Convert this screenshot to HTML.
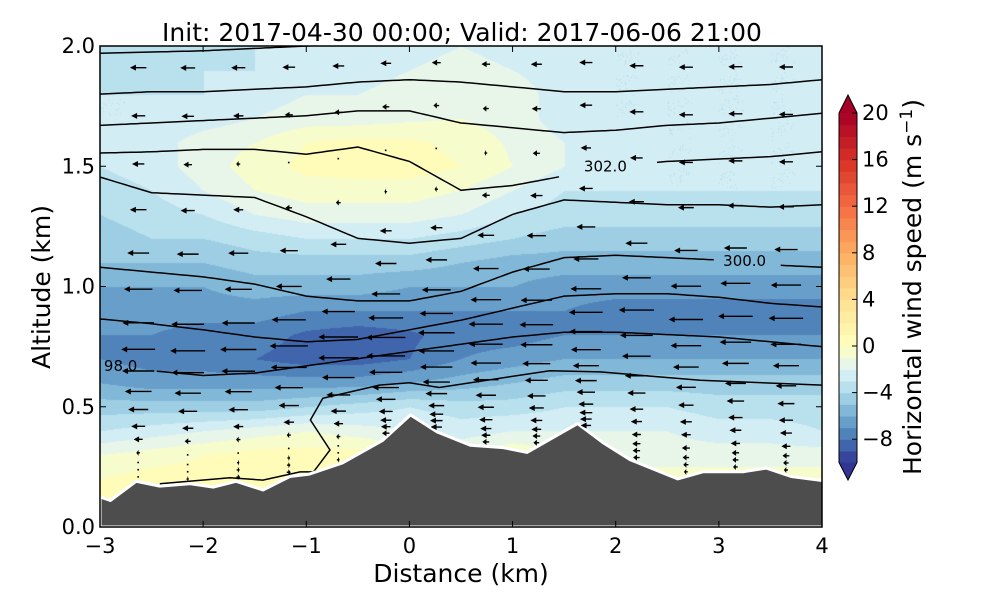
<!DOCTYPE html>
<html><head><meta charset="utf-8">
<style>
html,body{margin:0;padding:0;background:#fff;width:1000px;height:600px;overflow:hidden}
#wrap{position:relative;width:1000px;height:600px}
canvas{position:absolute;left:100px;top:46px}
svg{position:absolute;left:0;top:0}
text{font-family:"DejaVu Sans","Liberation Sans",sans-serif;fill:#000}
</style></head>
<body>
<div id="wrap">
<canvas id="heat" width="722" height="481"></canvas>
<svg id="svg" width="1000" height="600" xmlns="http://www.w3.org/2000/svg"></svg>
</div>
<script>
// ---- data ----
const gridX = [-3,-2.5,-2,-1.5,-1,-0.5,0,0.5,1,1.5,2,2.5,3,3.5,4];
const gridZ = [0,0.1,0.2,0.3,0.4,0.5,0.6,0.7,0.8,0.9,1.0,1.1,1.2,1.3,1.4,1.5,1.6,1.7,1.8,1.9,2.0];
const windU = [
[0.5,0.5,0.5,0.5,0.5,0.5,0.5,0.5,0.5,0.5,0.5,0.5,0.5,0.5,0.5],
[0.5,0.5,0.5,0.5,0.5,0.5,0.5,0.5,0.5,0.5,0.5,0.5,0.5,0.5,0.5],
[0,0.5,0.5,1,1,1,0,0,0.5,-0.5,-0.5,-0.5,-0.5,-0.5,-0.5],
[-1,-0.5,0,0.5,0.5,0.5,-0.5,-1,0,-1,-1.5,-1.5,-1.5,-1.5,-1.5],
[-3,-2.5,-2,-1.5,-1,-1.5,-2,-2.5,-2,-2,-2,-2,-2.5,-2.5,-3],
[-4.5,-4.5,-4.5,-4.5,-4,-3.5,-3,-3.5,-3.5,-3,-3,-3,-3.5,-3.5,-3.5],
[-6,-6.5,-6.5,-6.5,-6.5,-6.5,-6,-5.5,-5,-4.5,-4.5,-4.5,-4.5,-4.5,-4.5],
[-7,-7.5,-7.5,-8,-8.5,-8.5,-8,-7,-6.5,-6,-6,-6,-6,-6,-6],
[-7,-7,-7.5,-7.5,-8.2,-8.6,-8.2,-7.5,-7.5,-7,-7,-7,-7,-7,-7],
[-6.5,-6.5,-6.5,-6.5,-7,-7,-7,-7,-7,-7,-7.5,-7.5,-7.5,-7.5,-7.5],
[-6,-6,-6,-5.5,-5.5,-5.5,-6,-6,-6,-6.5,-6.5,-6.5,-6.5,-6.5,-6.5],
[-5,-5,-5,-4.5,-4.5,-4.5,-4.5,-5,-5.5,-5.5,-5.5,-5.5,-5.5,-5.5,-5.5],
[-4.5,-4,-4,-3.5,-3,-3,-3,-3.5,-4,-4.5,-4.5,-4.5,-4.5,-4.5,-4.5],
[-4,-3.5,-3,-2,-1.5,-1.5,-1.5,-2,-3,-3.5,-3.5,-3.5,-3.5,-3.5,-3.5],
[-3.5,-3,-2,-1,-0.5,-0.5,-0.5,-1,-2,-3,-3,-3,-3,-3,-3],
[-3,-2.5,-1.5,-0.5,0.3,0.5,0.5,0,-1,-2,-2.5,-3,-3,-3,-3],
[-3,-2.5,-1.5,-1,0,0.3,0.2,-0.3,-1.2,-2,-2.5,-3,-3,-3,-3],
[-3,-3,-2.5,-2,-1.5,-1.5,-1.2,-1,-1.5,-2.5,-3,-3,-3,-3,-3],
[-3,-3,-3,-2.5,-2,-2,-1.5,-1.2,-1.5,-2.5,-3,-3,-3,-3,-3],
[-3.5,-3.5,-3,-3,-2.5,-2.5,-2,-1.5,-2,-2.5,-3,-3,-3,-3,-3],
[-3.5,-3.5,-3.5,-3,-3,-2.5,-2.5,-2,-2.5,-3,-3,-3,-3,-3,-3]
];
const terrainX = [-3,-2.9,-2.65,-2.42,-2.13,-1.9,-1.68,-1.42,-1.16,-0.97,-0.65,-0.26,0.01,0.27,0.59,0.91,1.14,1.63,1.88,2.14,2.6,2.85,3.24,3.46,3.7,4.06,4.2];
const terrainZ = [0.125,0.11,0.19,0.17,0.18,0.166,0.19,0.154,0.21,0.22,0.266,0.36,0.466,0.395,0.34,0.33,0.31,0.43,0.35,0.28,0.20,0.23,0.23,0.245,0.21,0.19,0.2];
const contourX = [-3,-2.5,-2,-1.5,-1,-0.5,0,0.5,1,1.5,2,2.5,3,3.5,4];
const contour1 = [1.97,1.975,1.98,1.99,2.0,2.01,2.02,2.02,2.02,2.02,2.02,2.02,2.02,2.02,2.02];
const contour2 = [1.80,1.81,1.81,1.82,1.83,1.85,1.86,1.85,1.83,1.81,1.81,1.82,1.83,1.84,1.86];
const contour3 = [1.67,1.68,1.69,1.70,1.71,1.73,1.73,1.68,1.66,1.64,1.65,1.67,1.68,1.70,1.72];
const contour4 = [1.555,1.56,1.57,1.57,1.55,1.58,1.52,1.40,1.42,1.46,1.50,1.52,1.53,1.54,1.56];
const contour5 = [1.455,1.39,1.38,1.37,1.29,1.20,1.18,1.20,1.30,1.36,1.35,1.34,1.34,1.33,1.34];
const contour6 = [1.08,1.06,1.04,1.01,0.96,0.94,0.94,0.98,1.06,1.12,1.13,1.12,1.11,1.09,1.08];
const contour7 = [0.865,0.845,0.82,0.79,0.77,0.78,0.82,0.86,0.91,0.96,0.97,0.97,0.955,0.93,0.915];
const contour8 = [0.64,0.65,0.63,0.64,0.67,0.70,0.73,0.76,0.79,0.81,0.81,0.80,0.79,0.77,0.75];
const contour9X = [-2.42,-1.74,-1.42,-1.06,-0.93,-0.77,-0.96,-0.84,-0.29,0,0.29,1.36,1.85,2.82,4];
const contour9Z = [0.18,0.205,0.195,0.229,0.229,0.32,0.445,0.535,0.59,0.60,0.58,0.65,0.645,0.61,0.59];
const arrowX = [-2.63,-2.15,-1.66,-1.17,-0.69,-0.23,0.26,0.74,1.23,1.71,2.2,2.68,3.16,3.65];
const arrowEta = [1.72,1.52,1.32,1.13,0.95,0.80,0.66,0.55,0.46,0.375,0.30,0.23,0.176,0.12,0.08,0.05,0.02];
const cbTicks = [-8,-4,0,4,8,12,16,20];
const xTicks = [-3,-2,-1,0,1,2,3,4];
const yTicks = [0,0.5,1.0,1.5,2.0];

// ---- scales ----
const X0=100,X1=822,Y0=527,Y1=46;
const sx = x => X0+(x+3)/7*(X1-X0);
const sy = z => Y0-(z/2)*(Y0-Y1);
const NS='http://www.w3.org/2000/svg';
const svg=document.getElementById('svg');
function el(tag,attrs,parent){const e=document.createElementNS(NS,tag);for(const k in attrs)e.setAttribute(k,attrs[k]);(parent||svg).appendChild(e);return e;}

const stops=['#313695','#4575b4','#74add1','#abd9e9','#e0f3f8','#ffffbf','#fee090','#fdae61','#f46d43','#d73027','#a50026'];
const stopV=[-10,-8,-6,-4,-2,0,4,8,12,16,20];
function hex(h){return [parseInt(h.substr(1,2),16),parseInt(h.substr(3,2),16),parseInt(h.substr(5,2),16)];}
const stopC=stops.map(hex);
function cmap(v){v=Math.max(-10,Math.min(20,v));for(let i=0;i<stopV.length-1;i++){if(v<=stopV[i+1]){const t=(v-stopV[i])/(stopV[i+1]-stopV[i]);const a=stopC[i],b=stopC[i+1];return [0,1,2].map(k=>Math.round(a[k]+(b[k]-a[k])*t));}}return stopC[stopC.length-1];}
function field(x,z){
  let i=(x-gridX[0])/(gridX[1]-gridX[0]);let j=(z-gridZ[0])/(gridZ[1]-gridZ[0]);
  i=Math.max(0,Math.min(gridX.length-1.0001,i));j=Math.max(0,Math.min(gridZ.length-1.0001,j));
  const i0=Math.floor(i),j0=Math.floor(j),fi=i-i0,fj=j-j0;
  const a=windU[j0][i0],b=windU[j0][i0+1],c=windU[j0+1][i0],d=windU[j0+1][i0+1];
  return a*(1-fi)*(1-fj)+b*fi*(1-fj)+c*(1-fi)*fj+d*fi*fj;
}
const cv=document.getElementById('heat'),ctx=cv.getContext('2d');
const W=cv.width,H=cv.height,img=ctx.createImageData(W,H);
for(let py=0;py<H;py++){const z=(Y0-(py+46))/(Y0-Y1)*2;for(let px=0;px<W;px++){const x=(px+100-X0)/(X1-X0)*7-3;const v=field(x,z);const lv=Math.floor(v)+0.5;const c=cmap(lv);const o=(py*W+px)*4;img.data[o]=c[0];img.data[o+1]=c[1];img.data[o+2]=c[2];img.data[o+3]=255;}}
ctx.putImageData(img,0,0);

const plot=el('g',{'clip-path':'url(#clip)'});


const defs=el('defs',{});
const cp=el('clipPath',{id:'clip'},defs);el('rect',{x:X0,y:Y1,width:X1-X0,height:Y0-Y1},cp);

const contours=[contour1,contour2,contour3,contour4,contour5,contour6,contour7,contour8];
const gaps={3:[1.45,2.35],5:[2.95,3.55],7:[-3.1,-2.5]};
contours.forEach((c,k)=>{
  let d='';let pen=false;
  for(let xx=-3;xx<=4.0001;xx+=0.05){
    const i=Math.min(contourX.length-2,Math.floor((xx+3)/0.5));const t=(xx-contourX[i])/0.5;
    const z=c[i]+(c[i+1]-c[i])*t;
    const g=gaps[k];if(g&&xx>g[0]&&xx<g[1]){pen=false;continue;}
    d+=(pen?'L':'M')+sx(xx).toFixed(1)+' '+sy(z).toFixed(1);pen=true;
  }
  const p=el('path',{d:d,fill:'none',stroke:'#000','stroke-width':1.5},plot);
  
  
});
{let d='';contour9X.forEach((x,i)=>{d+=(i?'L':'M')+sx(x).toFixed(1)+' '+sy(contour9Z[i]).toFixed(1);});
const p=el('path',{d:d,fill:'none',stroke:'#000','stroke-width':1.5},plot);

}
const lbls=[['302.0',1.9,1.5],['300.0',3.25,1.105],['98.0',-2.8,0.67]];
lbls.forEach(l=>{const t=el('text',{x:sx(l[1]),y:sy(l[2])+5,'font-size':15,'text-anchor':'middle'},plot);t.textContent=l[0];

});

function terr(x){for(let i=0;i<terrainX.length-1;i++){if(x<=terrainX[i+1]){const t=(x-terrainX[i])/(terrainX[i+1]-terrainX[i]);return terrainZ[i]+(terrainZ[i+1]-terrainZ[i])*t;}}return terrainZ[terrainZ.length-1];}
{let d='M'+sx(-3)+' '+sy(0);terrainX.forEach((x,i)=>{d+='L'+sx(x).toFixed(1)+' '+sy(terrainZ[i]).toFixed(1);});d+='L'+sx(4.2)+' '+sy(0)+'Z';
const t=el('path',{d:d,fill:'#4d4d4d',stroke:'#fff','stroke-width':3,'stroke-linejoin':'round'},plot);

}

const ag=el('g',{},plot);


arrowX.forEach(x=>{const t=terr(x);arrowEta.forEach(e=>{
  const z=t+e*(2.1-t)/(2.1-0.19);
  if(z>1.99)return;
  const u=field(x,z);
  const L=u*4.7;const x0=sx(x),y0=sy(z);
  let d;
  if(Math.abs(L)<2){d=`M${x0-0.8} ${y0-0.8}h1.6v1.6h-1.6Z`;}
  else{const xe=x0+L/2,xs=x0-L/2,sg=Math.sign(L);const hl=Math.min(6,Math.abs(L)*0.6);
  d=`M${xs} ${y0-0.7}L${xe-sg*hl} ${y0-0.7}L${xe-sg*hl} ${y0-3}L${xe} ${y0}L${xe-sg*hl} ${y0+3}L${xe-sg*hl} ${y0+0.7}L${xs} ${y0+0.7}Z`;}
  const a=el('path',{d:d,fill:'#000'},ag);
  
  
});});

const ax=el('g',{});


el('rect',{x:X0,y:Y1,width:X1-X0,height:Y0-Y1,fill:'none',stroke:'#000','stroke-width':1.5},ax);
xTicks.forEach(v=>{const x=sx(v);el('line',{x1:x,x2:x,y1:Y0,y2:Y0-6,stroke:'#000'},ax);el('line',{x1:x,x2:x,y1:Y1,y2:Y1+6,stroke:'#000'},ax);
const t=el('text',{x:x,y:553,'font-size':21,'text-anchor':'middle'},ax);t.textContent=(v<0?'\u2212'+(-v):v);

});
yTicks.forEach(v=>{const y=sy(v);el('line',{x1:X0,x2:X0+6,y1:y,y2:y,stroke:'#000'},ax);el('line',{x1:X1,x2:X1-6,y1:y,y2:y,stroke:'#000'},ax);
const t=el('text',{x:95,y:y+7,'font-size':21,'text-anchor':'end'},ax);t.textContent=v.toFixed(1);

});
const tt=el('text',{x:462,y:41,'font-size':25,'text-anchor':'middle'});tt.textContent='Init: 2017-04-30 00:00; Valid: 2017-06-06 21:00';


const xl=el('text',{x:461,y:582,'font-size':25,'text-anchor':'middle'});xl.textContent='Distance (km)';


const yl=el('text',{x:50,y:287,'font-size':25,'text-anchor':'middle',transform:'rotate(-90 50 287)'});yl.textContent='Altitude (km)';



const cb=el('g',{});


const CX=839,CW=18,cy=v=>346-v*11.65;
for(let v=-10;v<20;v++){el('rect',{x:CX,y:cy(v+1),width:CW,height:cy(v)-cy(v+1)+0.6,fill:'rgb('+cmap(v+0.5).join(',')+')'},cb);}
el('path',{d:`M${CX} ${cy(20)}L${CX+CW/2} 95L${CX+CW} ${cy(20)}Z`,fill:'#a50026'},cb);
el('path',{d:`M${CX} ${cy(-10)}L${CX+CW/2} 480L${CX+CW} ${cy(-10)}Z`,fill:'#313695'},cb);
el('path',{d:`M${CX} ${cy(20)}L${CX+CW/2} 95L${CX+CW} ${cy(20)}L${CX+CW} ${cy(-10)}L${CX+CW/2} 480L${CX} ${cy(-10)}Z`,fill:'none',stroke:'#000','stroke-width':1},cb);
cbTicks.forEach(v=>{const y=cy(v);el('line',{x1:CX+CW-5,x2:CX+CW,y1:y,y2:y,stroke:'#000'},cb);
const t=el('text',{x:862,y:y+7,'font-size':21},cb);t.textContent=(v<0?'\u2212'+(-v):v);

});
const cl=el('text',{x:921,y:287,'font-size':25,'text-anchor':'middle',transform:'rotate(-90 921 287)'},cb);
cl.innerHTML='Horizontal wind speed (m s<tspan dy="-9" font-size="17">\u22121</tspan><tspan dy="9">)</tspan>';


</script>
</body></html>
